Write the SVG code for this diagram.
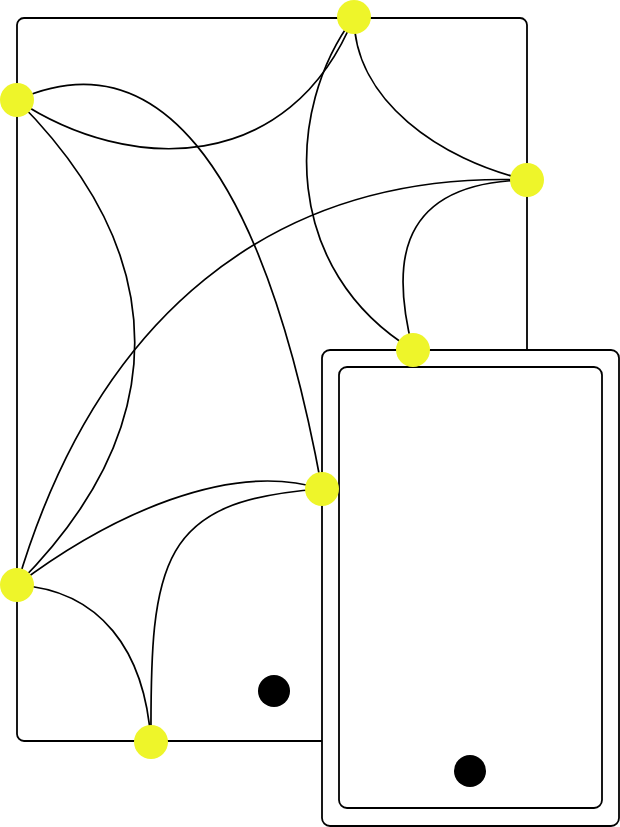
<svg xmlns="http://www.w3.org/2000/svg" width="620" height="827" viewBox="0 0 620 827">
<style>
.box{fill:#fff;stroke:#000;stroke-width:1.8}
.edge{fill:none;stroke:#000;stroke-width:1.7}
.node{fill:#eef52a;stroke:none}
.dot{fill:#000}
</style>
<rect width="620" height="827" fill="#fff"/>
<g id="frame-main"><rect class="box" x="17" y="18" width="510" height="723" rx="7"/></g>
<g id="frame-device">
<rect class="box" x="322" y="350" width="297" height="476" rx="8"/>
<rect class="box" x="339" y="367" width="263" height="441" rx="8"/>
</g>
<g id="connectors">
<path class="edge" d="M17,100 C130,175 290,175 354,17"/>
<path class="edge" d="M17,100 C150,40 260,150 322,489"/>
<path class="edge" d="M17,100 C174,257 174,428 17,585"/>
<path class="edge" d="M17,585 C95,320 270,170 527,180"/>
<path class="edge" d="M354,17 C354,100 440,160 527,180"/>
<path class="edge" d="M354,17 C284,110 282,270 413,350"/>
<path class="edge" d="M527,180 C385,182 395,280 413,350"/>
<path class="edge" d="M17,585 C110,515 230,460 322,489"/>
<path class="edge" d="M322,489 C160,500 150,560 151,742"/>
<path class="edge" d="M17,585 C100,590 145,650 151,742"/>
</g>
<g id="n1"><circle class="node" cx="354" cy="17" r="17"/></g>
<g id="n2"><circle class="node" cx="17" cy="100" r="17"/></g>
<g id="n3"><circle class="node" cx="527" cy="180" r="17"/></g>
<g id="n4"><circle class="node" cx="413" cy="350" r="17"/></g>
<g id="n5"><circle class="node" cx="322" cy="489" r="17"/></g>
<g id="n6"><circle class="node" cx="17" cy="585" r="17"/></g>
<g id="n7"><circle class="node" cx="151" cy="742" r="17"/></g>
<g id="dot1"><circle class="dot" cx="274" cy="691" r="16"/></g>
<g id="dot2"><circle class="dot" cx="470" cy="771" r="16"/></g>
</svg>
